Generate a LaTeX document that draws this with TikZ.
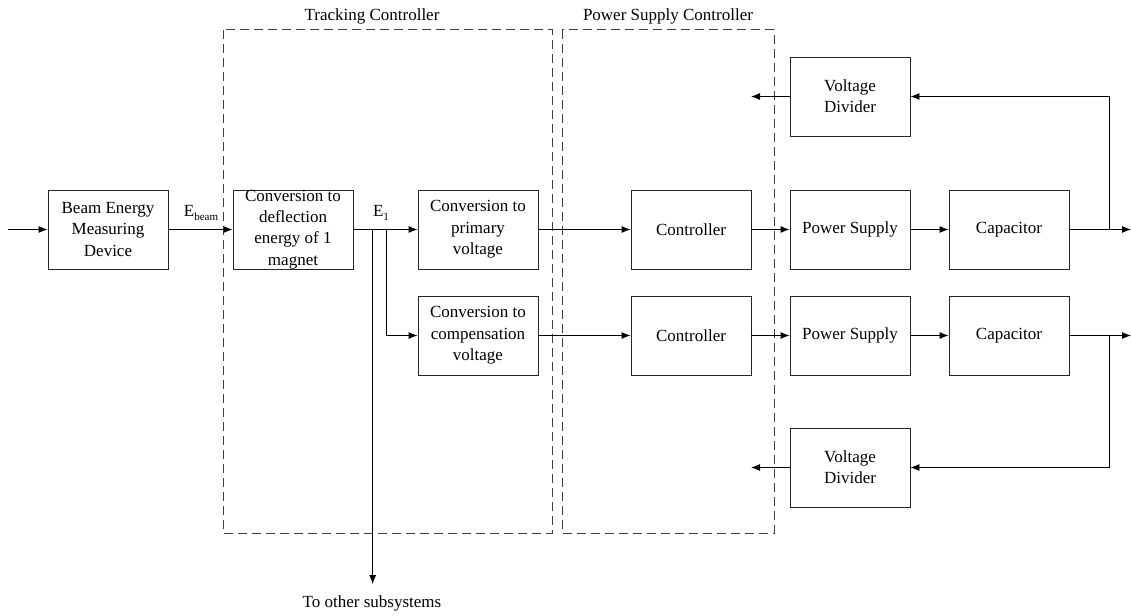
\documentclass[tikz,border=0pt]{standalone}
\usepackage{fontspec}
\setmainfont{Liberation Serif}
\usetikzlibrary{arrows.meta}
\newcommand{\lowsub}[1]{\raisebox{-4pt}{\fontsize{11}{12}\selectfont #1}}
\begin{document}
\begin{tikzpicture}[x=1pt,y=-1pt,
  txt/.style={font=\fontsize{17}{21.3}\selectfont, align=center},
  blk/.style={txt, draw=black!85, line width=0.9pt, minimum width=120pt, minimum height=79pt, inner sep=0pt},
  grp/.style={draw=black!75, line width=1pt, dash pattern=on 9pt off 5pt},
  flow/.style={line width=0.9pt, -{Latex[length=9pt,width=7pt]}},
  wire/.style={line width=0.9pt}
]
\useasboundingbox (0,0) rectangle (1131,615);

% controller groups
\draw[grp] (223,30) rectangle (552,533);
\draw[grp] (562,30) rectangle (774,533);
\node[txt] (tclab) at (372,16) {Tracking Controller};
\node[txt] (psclab) at (668,16) {Power Supply Controller};

% blocks
\node[blk] (beam) at (108,229.5) {Beam Energy\\Measuring\\Device};
\node[blk] (defl) at (293,229.5) {Conversion to\\deflection\\energy of 1\\magnet};
\node[blk] (prim) at (478,229.5) {Conversion to\\primary\\voltage};
\node[blk] (comp) at (478,335.5) {Conversion to\\compensation\\voltage};
\node[blk] (ctrlA) at (691,229.5) {Controller};
\node[blk] (ctrlB) at (691,335.5) {Controller};
\node[blk] (psA) at (850,229.5) {Power Supply};
\node[blk] (psB) at (850,335.5) {Power Supply};
\node[blk] (capA) at (1009,229.5) {Capacitor};
\node[blk] (capB) at (1009,335.5) {Capacitor};
\node[blk] (vdA) at (850,96.5) {Voltage\\Divider};
\node[blk] (vdB) at (850,467.5) {Voltage\\Divider};

% free ends and junctions
\coordinate (src) at (8,229.5);
\coordinate (jdown) at (372.7,229.5);
\coordinate (jcomp) at (386,229.5);
\coordinate (sub) at (372.7,584);
\coordinate (outA) at (1131,229.5);
\coordinate (outB) at (1131,335.5);
\coordinate (fbA) at (1109,229.5);
\coordinate (fbB) at (1109,335.5);
\coordinate (retA) at (751,96.5);
\coordinate (retB) at (751,467.5);

% signal path
\draw[flow] (src) -- (beam.west);
\draw[flow] (beam.east) -- (defl.west);
\node[txt] (ebeam) at (201,213) {E\lowsub{beam}};
\draw[flow] (defl.east) -- (prim.west);
\node[txt] (eone) at (381,213) {E\lowsub{1}};
\draw[flow] (jdown) -- (sub);
\node[txt] (sublab) at (372,603) {To other subsystems};
\draw[flow] (jcomp) |- (comp.west);

\draw[flow] (prim.east) -- (ctrlA.west);
\draw[flow] (comp.east) -- (ctrlB.west);
\draw[flow] (ctrlA.east) -- (psA.west);
\draw[flow] (ctrlB.east) -- (psB.west);
\draw[flow] (psA.east) -- (capA.west);
\draw[flow] (psB.east) -- (capB.west);
\draw[flow] (capA.east) -- (outA);
\draw[flow] (capB.east) -- (outB);

% feedback through the voltage dividers
\draw[flow] (fbA) |- (vdA.east);
\draw[flow] (fbB) |- (vdB.east);
\draw[flow] (vdA.west) -- (retA);
\draw[flow] (vdB.west) -- (retB);
\end{tikzpicture}
\end{document}
